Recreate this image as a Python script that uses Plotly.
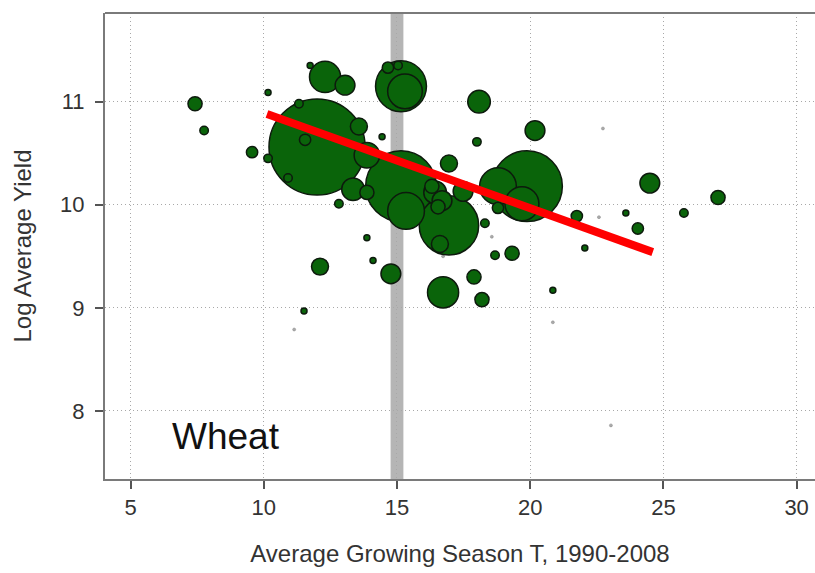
import plotly.graph_objects as go

# Country-level wheat: mean growing-season temperature vs log mean yield,
# bubble area proportional to harvested weight
temp = [7.42, 7.76, 9.56, 10.16, 10.16, 10.91, 11.32, 12.00, 11.55, 11.74,
        12.30, 13.05, 13.57, 13.87, 14.44, 15.15, 15.30, 14.66, 15.04, 18.08,
        18.00, 20.18, 16.95, 15.15, 15.34, 13.35, 13.87, 12.82, 16.43, 16.69,
        16.31, 16.54, 16.95, 16.61, 17.48, 18.30, 19.88, 18.79, 19.69, 18.79,
        19.32, 18.68, 21.75, 24.49, 27.05, 25.77, 23.59, 24.04, 22.05, 20.85,
        13.87, 14.10, 12.11, 14.77, 16.73, 17.89, 18.19, 11.51]
log_yield = [10.98, 10.72, 10.51, 10.45, 11.09, 10.26, 10.98, 10.56, 10.63, 11.35,
             11.24, 11.16, 10.76, 10.48, 10.66, 11.15, 11.10, 11.33, 11.35, 11.00,
             10.61, 10.72, 10.40, 10.18, 9.94, 10.15, 10.12, 10.01, 10.12, 10.04,
             10.18, 9.98, 9.80, 9.62, 10.13, 9.82, 10.18, 10.18, 10.01, 9.97,
             9.53, 9.51, 9.89, 10.21, 10.07, 9.92, 9.92, 9.77, 9.58, 9.17,
             9.68, 9.46, 9.40, 9.33, 9.15, 9.30, 9.08, 8.97]
weight = [25, 9, 16, 9, 4, 9, 9, 1156, 16, 4,
          121, 49, 36, 81, 4, 324, 150, 16, 9, 64,
          9, 49, 36, 625, 169, 64, 25, 9, 64, 49,
          25, 25, 441, 36, 49, 9, 625, 169, 144, 16,
          25, 9, 16, 49, 25, 9, 4, 16, 4, 4,
          4, 4, 36, 49, 121, 25, 25, 4]

# Countries with negligible production
minor_temp = [22.73, 22.58, 20.85, 23.03, 11.14, 16.73, 18.56]
minor_yield = [10.74, 9.88, 8.86, 7.86, 8.79, 9.50, 9.69]

# Fitted regression line
fit_intercept = 11.816
fit_slope = -0.0925
fit_x = [10.12, 24.6]

FONT = "Arial, Liberation Sans, Helvetica, sans-serif"

# Draw large bubbles first so small ones stay visible on top
order = sorted(range(len(temp)), key=lambda i: -weight[i])
bx = [temp[i] for i in order]
by = [log_yield[i] for i in order]
bw = [weight[i] for i in order]

fig = go.Figure()

fig.add_trace(go.Scatter(
    x=minor_temp, y=minor_yield, mode="markers",
    marker=dict(size=3, color="#aaaaaa", line=dict(width=0.5, color="#888888")),
    hoverinfo="skip", showlegend=False,
))

fig.add_trace(go.Scatter(
    x=bx, y=by, mode="markers",
    marker=dict(size=bw, sizemode="area", sizeref=0.25, sizemin=3,
                color="#0a640a", opacity=1,
                line=dict(width=1.5, color="#0d1a0d")),
    showlegend=False,
))

fig.add_trace(go.Scatter(
    x=fit_x, y=[fit_intercept + fit_slope * v for v in fit_x],
    mode="lines", line=dict(color="#ff0000", width=8),
    showlegend=False,
))

# 15 degree reference band
fig.add_shape(type="rect", xref="x", yref="paper", x0=14.76, x1=15.24, y0=0, y1=1,
              fillcolor="#b5b5b5", line=dict(width=0), layer="between")
# top frame line
fig.add_shape(type="line", xref="paper", yref="paper", x0=0, x1=1, y0=1, y1=1,
              line=dict(color="#7a7a7a", width=2))

fig.add_annotation(x=6.48, y=7.75, xref="x", yref="y", text="Wheat",
                   showarrow=False, xanchor="left", yanchor="middle",
                   font=dict(family=FONT, size=37, color="#111111"))

GRID = dict(showgrid=True, gridcolor="#a8a8a8", griddash="1px,3px", gridwidth=1)

fig.update_xaxes(
    range=[4.04, 30.69], tickvals=[5, 10, 15, 20, 25, 30],
    ticks="outside", ticklen=8, tickwidth=1.5, tickcolor="#555555",
    showline=True, linecolor="#7a7a7a", linewidth=2, zeroline=False,
    tickfont=dict(family=FONT, size=22, color="#333333"),
    ticklabelstandoff=0,
    title=dict(text="Average Growing Season T, 1990-2008",
               font=dict(family=FONT, size=24, color="#333333"), standoff=26),
    **GRID,
)
fig.update_yaxes(
    range=[7.34, 11.86], tickvals=[8, 9, 10, 11],
    ticks="outside", ticklen=8, tickwidth=1.5, tickcolor="#555555",
    showline=True, linecolor="#7a7a7a", linewidth=2, zeroline=False,
    tickfont=dict(family=FONT, size=22, color="#333333"),
    ticklabelstandoff=6,
    title=dict(text="Log Average Yield",
               font=dict(family=FONT, size=24, color="#333333"), standoff=22),
    **GRID,
)

fig.update_layout(
    width=815, height=573,
    margin=dict(l=105, r=0, t=13, b=94),
    plot_bgcolor="white", paper_bgcolor="white",
)

fig.write_html("out.html")
